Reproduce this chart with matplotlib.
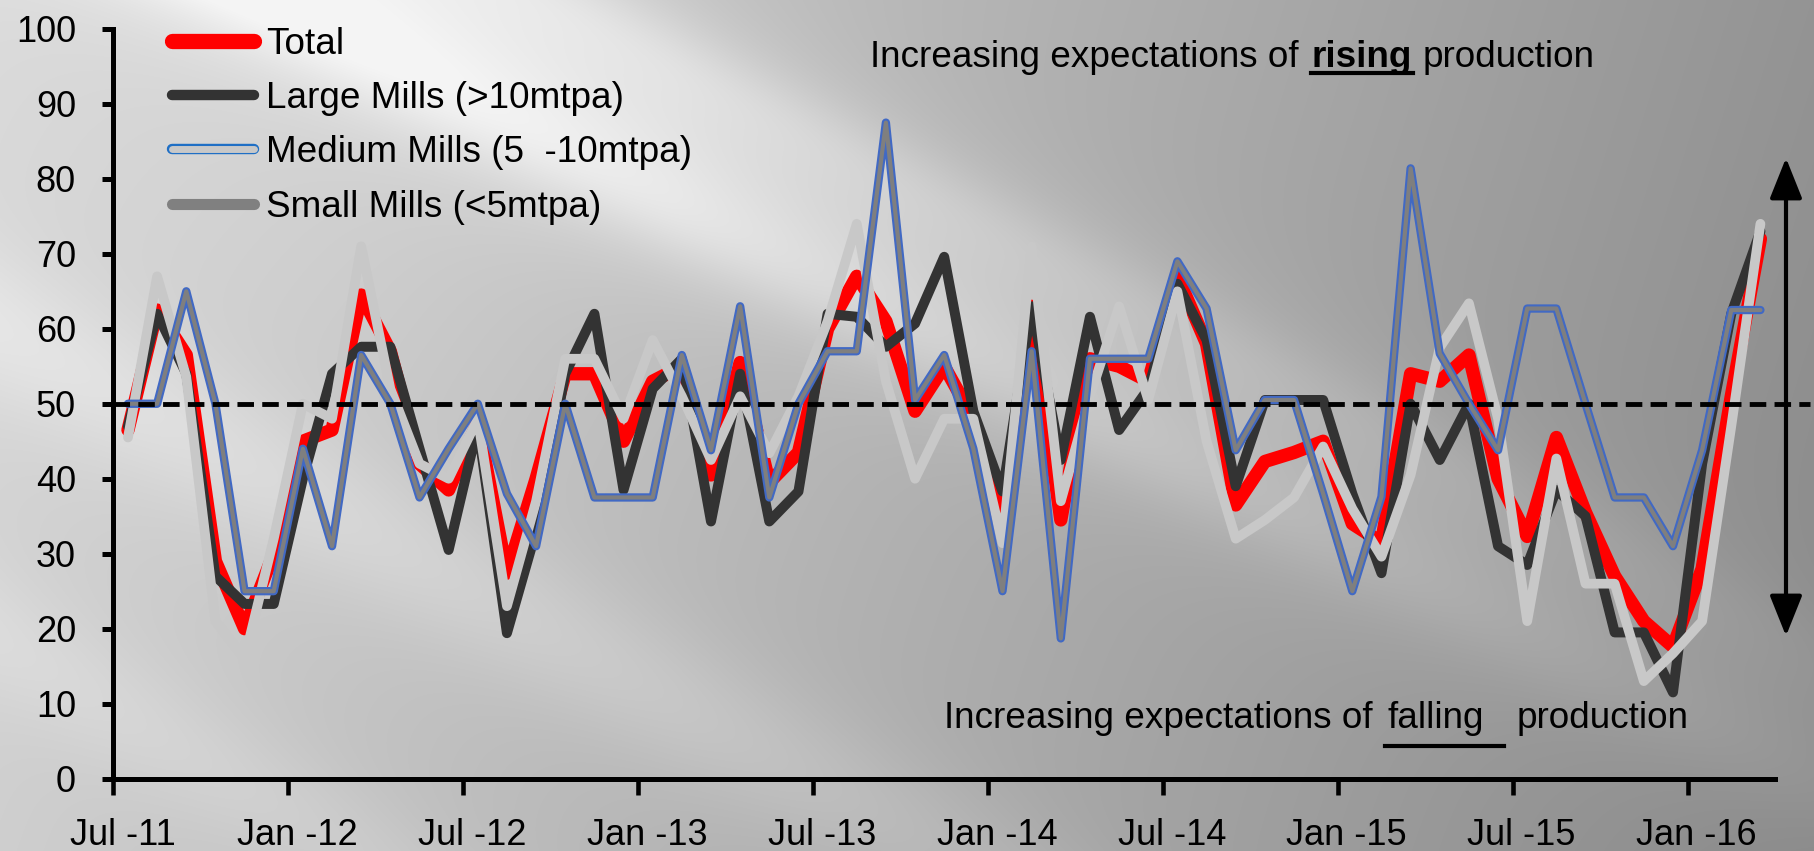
import numpy as np
import pandas as pd
import matplotlib
matplotlib.use("Agg")
import matplotlib.pyplot as plt
from matplotlib.lines import Line2D
from matplotlib.patches import FancyArrowPatch
from matplotlib.transforms import ScaledTranslation
import matplotlib.patheffects as pe

plt.rcParams["font.family"] = ["Liberation Sans", "DejaVu Sans"]

# ---- data -------------------------------------------------------------
months = pd.date_range("2011-07-01", periods=57, freq="MS")

total = [46.5, 62.5, 56.5, 29, 20, 30, 45, 46.5, 64.5, 57, 42, 38.5, 47.5, 27.4,
         40, 54, 54, 45, 53, 55, 40.5, 55.5, 39.5, 43.5, 60, 67, 61, 49, 55, 48,
         33, 63, 34.5, 56, 55, 53, 67, 58, 36.5, 42.3, 43.5, 45, 34, 31.5, 54, 53,
         56.5, 40, 32.3, 45.5, 35.5, 27, 21, 17.6, 28, 51, 72]

large = [47, 62, 54, 27, 23.3, 23.3, 40, 54, 57.6, 57.6, 44, 30.5, 47, 19.4,
         33, 54, 62, 38.5, 52, 56, 34.3, 54, 34.3, 38.3, 62, 61.6, 57.6, 60.7,
         69.6, 49, 38.3, 63, 42.5, 61.6, 46.5, 52, 66, 58.5, 39, 50.5, 50.5, 50.5,
         38, 27.4, 50, 42.5, 50, 31, 28.5, 38.5, 35, 19.5, 19.5, 11.5, 42, 62, 73]

medium = [50, 50, 65, 50, 25, 25, 44, 31, 56.5, 50, 37.5, 44, 50, 38, 31, 50,
          37.5, 37.5, 37.5, 56.5, 43.8, 63, 37.5, 50, 57, 57, 87.5, 50.5, 56.5,
          44, 25, 57, 18.7, 56, 56, 56, 69, 62.7, 43.8, 50.5, 50.5, 38, 25, 37.6,
          81.4, 56.7, 50, 43.8, 62.7, 62.7, 50, 37.5, 37.5, 31, 43.8, 62.5, 62.5]

small = [45.5, 67, 53.6, 21, 16, 32, 50, 48, 71, 52, 42, 40, 48, 23, 37, 56, 56,
         48, 58.5, 51, 42.5, 51, 43.4, 51, 61, 74, 53, 40, 48, 48, 31.4, 71, 37,
         51, 63, 50.5, 65, 45, 32, 34.5, 37.5, 44.3, 36, 29.6, 40.5, 57.5, 63.4,
         48, 21, 42.7, 26, 26, 13, 16.7, 21, 47, 74]

series_labels = ["Total", "Large Mills (>10mtpa)", "Medium Mills (5  -10mtpa)",
                 "Small Mills (<5mtpa)"]

y_ticks = list(range(0, 101, 10))
neutral_level = 50

# ---- figure -------------------------------------------------------------
W, H = 1814, 851
fig = plt.figure(figsize=(W / 100, H / 100), dpi=100)


def fx(px):
    return px / W


def fy(py):
    return 1 - py / H


# shaded grey backdrop with soft diagonal highlights
yy, xx = np.mgrid[0:H, 0:W].astype(float)
shade = 0.85 - 0.27 * (xx / W) - 0.04 * (yy / H)


def streak(x0, y0, slope, width, amp):
    d = np.abs(-slope * (xx - x0) + (yy - y0)) / np.hypot(1, slope)
    return amp * np.exp(-(d / width) ** 2)


fade = np.clip(1.45 - xx / 1500, 0, 1)
shade += streak(380, 0, 0.5, 110, 0.13) * fade
shade += streak(250, 0, 0.5, 45, 0.05) * fade
shade += streak(560, 0, 0.52, 40, 0.04) * fade
shade += streak(0, 330, 0.55, 70, 0.06) * fade
shade += streak(0, 640, 0.6, 60, 0.04) * fade
shade += 0.025 * np.exp(-((xx - 420) ** 2 + (yy - 120) ** 2) / 380.0 ** 2)
shade = np.clip(shade, 0, 0.96)
bg = fig.add_axes([0, 0, 1, 1], zorder=-10)
bg.imshow(np.dstack([shade] * 3), aspect="auto", extent=[0, 1, 0, 1], origin="upper")
bg.axis("off")

ax = fig.add_axes([fx(113.4), fy(778.6), fx(1775) - fx(113.4), fy(28.9) - fy(778.6)])
ax.set_facecolor("none")

x = np.arange(len(months)) + 0.5
line_kw = dict(solid_joinstyle="round", solid_capstyle="round")
ax.plot(x, total, color="#ff0000", lw=9.6, zorder=2, **line_kw)
ax.plot(x, large, color="#333333", lw=7.2, zorder=3, **line_kw)
ax.plot(x, small, color="#c8c8c8", lw=7, zorder=4, **line_kw)
ax.plot(x, medium, color="#4169c4", lw=6, zorder=5, **line_kw)
ax.plot(x, medium, color="#7f7f7f", lw=3, zorder=6, **line_kw)

ax.plot([0, len(months) + 1.2], [neutral_level, neutral_level], color="black",
        lw=3.5, dashes=(3.4, 1.7), clip_on=False, zorder=7)

ax.set_xlim(0, len(months))
ax.set_ylim(0, 100)
ax.set_yticks(y_ticks)

tick_pos = [i for i, m in enumerate(months) if m.month in (1, 7)]
tick_lab = [months[i].strftime("%b -%y") for i in tick_pos]
ax.set_xticks(tick_pos)
ax.set_xticklabels(tick_lab)

for s in ("top", "right"):
    ax.spines[s].set_visible(False)
for s in ("left", "bottom"):
    ax.spines[s].set_linewidth(3.6)
    ax.spines[s].set_color("black")
ax.tick_params(axis="y", direction="out", length=8, width=3.6, labelsize=26, pad=19)
ax.tick_params(axis="x", direction="out", length=11.5, width=3.3, labelsize=26, pad=17)
shift = ScaledTranslation(9 / 100, 0, fig.dpi_scale_trans)
for lab in ax.get_xticklabels():
    lab.set_transform(lab.get_transform() + shift)

# legend
handles = [
    Line2D([], [], color="#ff0000", lw=11, solid_capstyle="round"),
    Line2D([], [], color="#333333", lw=7.5, solid_capstyle="round"),
    Line2D([], [], color="#c8c8c8", lw=5, solid_capstyle="round",
           path_effects=[pe.Stroke(linewidth=7.5, foreground="#1f6fc5"), pe.Normal()]),
    Line2D([], [], color="#808080", lw=8, solid_capstyle="round"),
]
ax.legend(handles, series_labels, loc="upper left", bbox_to_anchor=(fx(172), fy(27)),
          bbox_transform=fig.transFigure, frameon=False, fontsize=26.6,
          handlelength=2.21, handletextpad=0.33, labelspacing=0.52,
          borderpad=0, borderaxespad=0)

# annotations
fs = 26.6
fig.text(fx(870), fy(67), "Increasing expectations of", fontsize=fs, va="baseline")
fig.text(fx(1311), fy(67), "rising", fontsize=fs, va="baseline", fontweight="bold")
fig.text(fx(1423), fy(67), "production", fontsize=fs, va="baseline")
fig.add_artist(Line2D([fx(1311), fx(1413)], [fy(72.5), fy(72.5)], color="black", lw=3))

fig.text(fx(944), fy(728), "Increasing expectations of", fontsize=fs, va="baseline")
fig.text(fx(1387), fy(728), "falling", fontsize=fs, va="baseline")
fig.text(fx(1517), fy(728), "production", fontsize=fs, va="baseline")
fig.add_artist(Line2D([fx(1385), fx(1504)], [fy(746), fy(746)], color="black", lw=3))

arrow = FancyArrowPatch((fx(1786), fy(636)), (fx(1786), fy(158)),
                        transform=fig.transFigure,
                        arrowstyle="<|-|>,head_length=2.5,head_width=1.0",
                        mutation_scale=10, color="black", lw=3,
                        shrinkA=0, shrinkB=0)
fig.add_artist(arrow)

fig.savefig("out.png", dpi=100)
